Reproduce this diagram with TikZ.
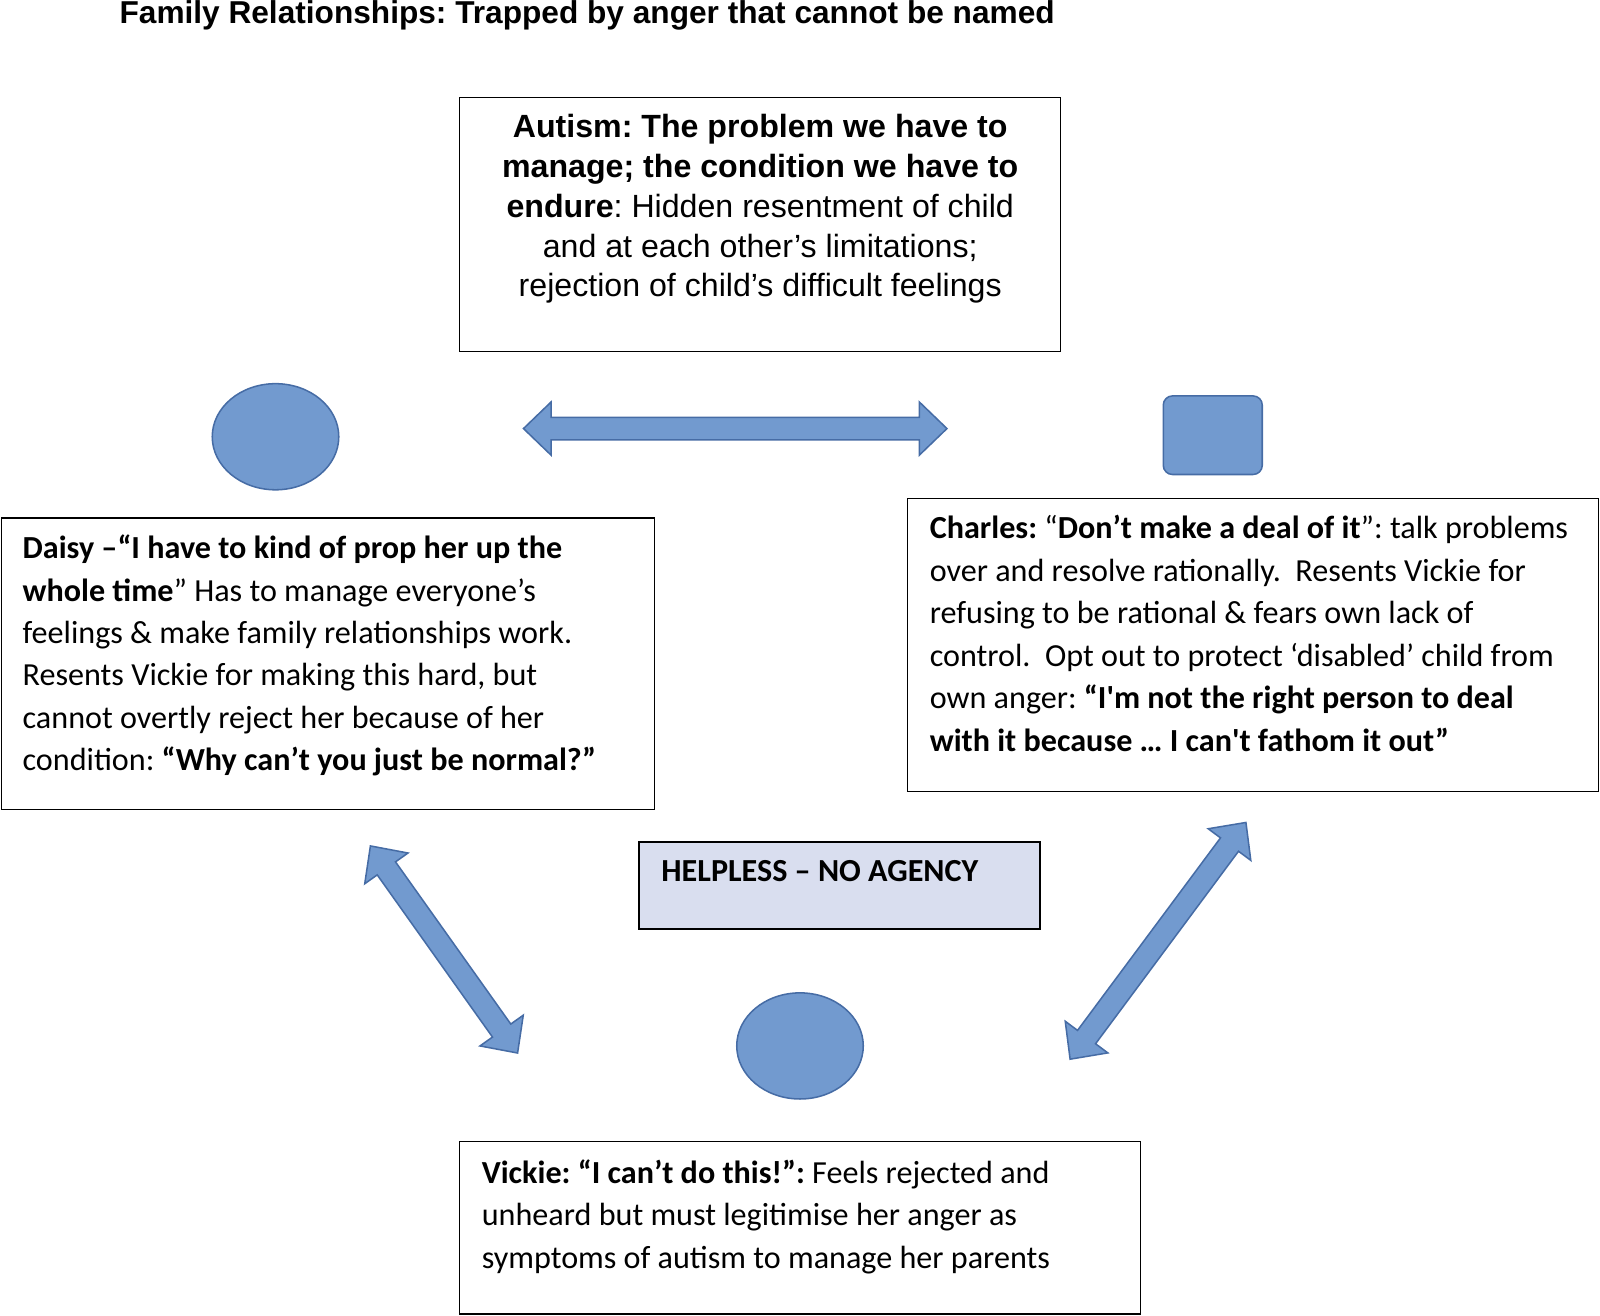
\documentclass[tikz,border=0pt]{standalone}
\usepackage{fontspec}
\usetikzlibrary{shapes.geometric}
\setmainfont{Carlito}
\newfontfamily\arial{Liberation Sans}
\begin{document}
\frenchspacing
\begin{tikzpicture}[x=1pt,y=-1pt,
 box/.style={draw=black,line width=1.2pt,anchor=north west,inner sep=0},
 txt/.style={anchor=north west,inner sep=0,align=left,font=\fontsize{31.5}{41.6}\selectfont},
 shp/.style={fill=shfill,draw=shdraw,line width=1.5pt}]
\definecolor{shfill}{RGB}{114,154,207}
\definecolor{shdraw}{RGB}{70,108,165}
\definecolor{hfill}{RGB}{217,222,239}
\useasboundingbox (0,0) rectangle (1568,1289);
\newcommand\dblarr[3]{\begin{scope}[shift={#1},rotate=#2]
 \draw[shp,line join=miter] (0,0)--(27,-26)--(27,-11)--(#3-27,-11)--(#3-27,-26)--(#3,0)--(#3-27,26)--(#3-27,11)--(27,11)--(27,26)--cycle;\end{scope}}
\node[anchor=base west,inner sep=0,font=\arial\bfseries\fontsize{31}{36}\selectfont] (title) at (117,23) {Family Relationships: Trapped by anger that cannot be named};
% top box
\node[box,minimum width=589,minimum height=249] (autism) at (450,95) {};
\node[anchor=north,inner sep=0,align=center,font=\arial\fontsize{31.5}{39}\selectfont] (autismt) at (745,112) {\textbf{Autism: The problem we have to}\\\textbf{manage; the condition we have to}\\\textbf{endure}: Hidden resentment of child\\and at each other’s limitations;\\rejection of child’s difficult feelings};
% shapes
\node[shp,ellipse,minimum width=124,minimum height=104,inner sep=0] (dshape) at (270,428) {};
\node[shp,rounded corners=9,minimum width=97,minimum height=77,inner sep=0] (cshape) at (1188.5,426.5) {};
\node[shp,ellipse,minimum width=124,minimum height=104,inner sep=0] (vshape) at (784,1025) {};
\dblarr{(513,420)}{0}{415}
\dblarr{(363,829)}{-54.6}{249}
\dblarr{(1221,806)}{-126.6}{289}
% Daisy
\node[box,minimum width=640,minimum height=286] (daisy) at (1,507) {};
\node[txt] (daisyt) at (22,524) {\textbf{Daisy –“I have to kind of prop her up the}\\\textbf{whole time}” Has to manage everyone’s\\feelings \& make family relationships work.\\Resents Vickie for making this hard, but\\cannot overtly reject her because of her\\condition: \textbf{“Why can’t you just be normal?”}};
% Charles
\node[box,minimum width=677,minimum height=287] (charles) at (889,488) {};
\node[txt] (charlest) at (911,505) {\textbf{Charles:} “\textbf{Don’t make a deal of it}”: talk problems\\over and resolve rationally.\ \ Resents Vickie for\\refusing to be rational \& fears own lack of\\control.\ \ Opt out to protect ‘disabled’ child from\\own anger: \textbf{“I\textquotesingle m not the right person to deal}\\\textbf{with it because … I can\textquotesingle t fathom it out”}};
% Helpless
\node[box,fill=hfill,line width=2.5pt,minimum width=393,minimum height=85] (help) at (625,824) {};
\node[txt,font=\bfseries\fontsize{31.5}{36}\selectfont] (helpt) at (648,843) {HELPLESS – NO AGENCY};
% Vickie
\node[box,minimum width=667,minimum height=169] (vickie) at (450,1118) {};
\node[txt] (vickiet) at (472,1136) {\textbf{Vickie: “I can’t do this!”:} Feels rejected and\\unheard but must legitimise her anger as\\symptoms of autism to manage her parents};
\end{tikzpicture}
\end{document}
